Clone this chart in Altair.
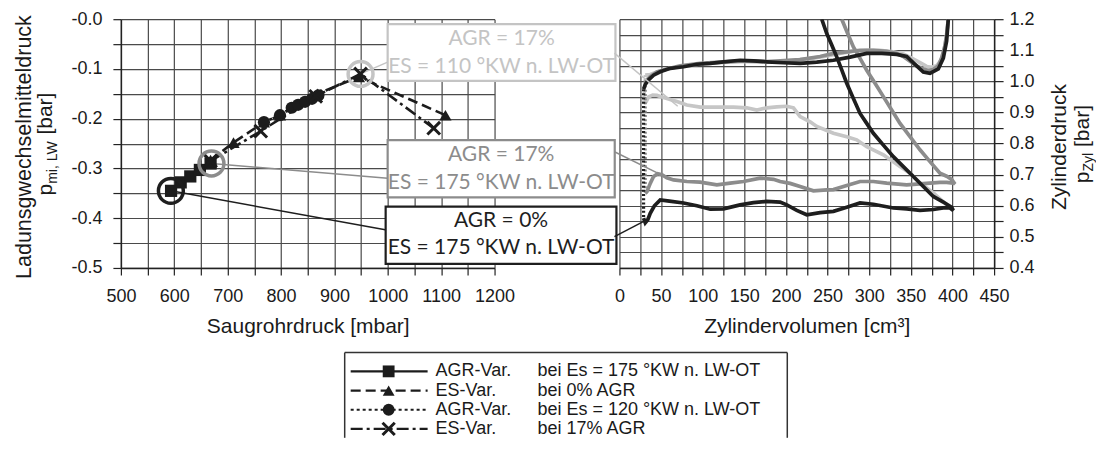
import altair as alt
import pandas as pd

FONT = "Liberation Sans, Arial, Helvetica, sans-serif"
BOXFONT = "Lato, Carlito, Calibri, sans-serif"
INK = "#1c1c1c"
GRID = "#4a4a4a"

# ---------------- left panel data (Saugrohrdruck vs p_mi,LW) ----------------
series_names = ["AGR-Var. Es=175", "ES-Var. 0% AGR", "AGR-Var. Es=120", "ES-Var. 17% AGR"]
s1_x = [594, 612, 630, 648, 668]
s1_y = [-0.345, -0.328, -0.316, -0.303, -0.290]
s2_x = [668, 711, 768, 798, 868, 946, 1108]
s2_y = [-0.283, -0.248, -0.207, -0.193, -0.150, -0.116, -0.193]
s3_x = [768, 798, 820, 832, 845, 858, 870]
s3_y = [-0.207, -0.193, -0.178, -0.172, -0.166, -0.160, -0.153]
s4_x = [668, 762, 865, 949, 1086]
s4_y = [-0.285, -0.225, -0.155, -0.110, -0.219]

legend_col1 = ["AGR-Var.", "ES-Var.", "AGR-Var.", "ES-Var."]
legend_col2 = ["bei Es = 175 °KW n. LW-OT", "bei 0% AGR", "bei Es = 120 °KW n. LW-OT", "bei 17% AGR"]

# highlighted operating points (left) and their loops (right)
hl_x = [593.6, 669.7, 949.0]
hl_y = [-0.345, -0.290, -0.110]
hl_color = ["#1e1e1e", "#8c8c8c", "#c4c4c4"]
annot_l1 = ["AGR = 0%", "AGR = 17%", "AGR = 17%"]
annot_l2 = ["ES = 175 °KW n. LW-OT", "ES = 175 °KW n. LW-OT", "ES = 110 °KW n. LW-OT"]
anchor_V = [28.6, 46.0, 70.0]
anchor_p = [0.549, 0.705, 0.920]

# ---------------- right panel data (p-V gas exchange loops) ----------------
curve_names = ["AGR 17% ES 110", "AGR 17% ES 175", "AGR 0% ES 175"]
curve_colors = ["#c6c6c6", "#8c8c8c", "#1e1e1e"]

lg_exh_V = [395, 393, 390, 386, 381, 375, 369, 361, 351, 341, 329, 313, 297, 281, 265, 249, 233, 217, 193, 169, 145, 121, 97, 73, 57, 45, 37, 31]
lg_exh_p = [1.2, 1.15, 1.1, 1.068, 1.05, 1.045, 1.048, 1.06, 1.075, 1.088, 1.095, 1.1, 1.1, 1.097, 1.09, 1.082, 1.075, 1.07, 1.063, 1.062, 1.064, 1.06, 1.056, 1.048, 1.04, 1.03, 1.022, 1.02]
lg_int_V = [29, 32, 35, 40, 45, 51, 57, 69, 81, 97, 117, 137, 153, 165, 177, 189, 201, 209, 217, 229, 237, 257, 273, 285, 297, 317, 337, 349, 361, 377, 393, 399]
lg_int_p = [0.93, 0.935, 0.95, 0.956, 0.955, 0.95, 0.945, 0.935, 0.924, 0.917, 0.917, 0.917, 0.915, 0.908, 0.915, 0.918, 0.92, 0.915, 0.887, 0.87, 0.855, 0.833, 0.822, 0.812, 0.79, 0.764, 0.726, 0.705, 0.673, 0.641, 0.603, 0.59]

gr_exh_V = [395, 393, 391, 387, 383, 377, 371, 365, 357, 349, 341, 333, 321, 305, 289, 273, 257, 241, 217, 193, 177, 161, 145, 121, 97, 73, 57, 45, 37, 31]
gr_exh_p = [1.2, 1.15, 1.115, 1.075, 1.05, 1.038, 1.035, 1.04, 1.05, 1.065, 1.08, 1.09, 1.097, 1.1, 1.1, 1.095, 1.09, 1.08, 1.07, 1.066, 1.064, 1.066, 1.065, 1.062, 1.058, 1.05, 1.04, 1.03, 1.015, 1.0]
gr_int_V = [31, 33, 37, 41, 46, 51, 57, 65, 81, 97, 117, 133, 149, 169, 185, 193, 205, 217, 233, 249, 257, 273, 289, 305, 321, 345, 369, 385, 393, 401, 403, 399, 393, 385, 373, 361, 349, 337, 327, 317, 307, 297, 289, 281, 274, 267]
gr_int_p = [0.64, 0.645, 0.672, 0.694, 0.703, 0.7, 0.69, 0.683, 0.678, 0.676, 0.667, 0.673, 0.678, 0.689, 0.685, 0.678, 0.672, 0.662, 0.648, 0.651, 0.652, 0.665, 0.678, 0.678, 0.673, 0.667, 0.672, 0.675, 0.675, 0.673, 0.67, 0.685, 0.695, 0.705, 0.742, 0.78, 0.822, 0.865, 0.908, 0.951, 0.994, 1.036, 1.074, 1.111, 1.155, 1.2]

bk_exh_V = [395, 393, 389, 383, 373, 365, 355, 345, 333, 315, 297, 277, 257, 237, 217, 197, 177, 161, 145, 125, 109, 93, 77, 61, 49, 41, 35, 31, 29]
bk_exh_p = [1.2, 1.13, 1.075, 1.04, 1.026, 1.03, 1.055, 1.08, 1.087, 1.09, 1.09, 1.078, 1.068, 1.062, 1.058, 1.06, 1.063, 1.066, 1.068, 1.063, 1.058, 1.055, 1.047, 1.042, 1.031, 1.02, 1.005, 0.99, 0.975]
bk_int_V = [29, 31, 34, 37, 42, 49, 60, 77, 93, 109, 125, 145, 161, 177, 193, 201, 213, 225, 241, 257, 273, 289, 305, 329, 345, 361, 377, 389, 397, 401, 399, 389, 377, 365, 353, 341, 329, 317, 305, 297, 289, 281, 273, 267, 261, 255, 249, 243]
bk_int_p = [0.56, 0.545, 0.555, 0.576, 0.6, 0.619, 0.615, 0.609, 0.6, 0.589, 0.59, 0.603, 0.61, 0.614, 0.612, 0.603, 0.585, 0.571, 0.578, 0.582, 0.595, 0.609, 0.605, 0.593, 0.59, 0.585, 0.588, 0.593, 0.593, 0.585, 0.595, 0.612, 0.63, 0.662, 0.694, 0.726, 0.758, 0.795, 0.833, 0.865, 0.897, 0.945, 0.994, 1.037, 1.079, 1.117, 1.154, 1.2]

# ---------------- tables ----------------
sx = [s1_x, s2_x, s3_x, s4_x]
sy = [s1_y, s2_y, s3_y, s4_y]
rows = []
for name, xs, ys in zip(series_names, sx, sy):
    for i, (a, b) in enumerate(zip(xs, ys)):
        rows.append({"x": a, "y": b, "series": name, "i": i})
left_df = pd.DataFrame(rows)
filled_df = left_df[left_df["series"] != series_names[3]]
xmark_df = left_df[left_df["series"] == series_names[3]]
hl_df = pd.DataFrame({"x": hl_x, "y": hl_y, "c": hl_color})
one = pd.DataFrame({"k": [0]})

curves = [(lg_exh_V, lg_exh_p, lg_int_V, lg_int_p),
          (gr_exh_V, gr_exh_p, gr_int_V, gr_int_p),
          (bk_exh_V, bk_exh_p, bk_int_V, bk_int_p)]

DASHES = [[1, 0], [10, 5], [3, 3], [12, 4, 3, 4]]
X_PATH = "M-1,-1L1,1M-1,1L1,-1"

# ---------------- scales & axes ----------------
xL = alt.Scale(domain=[500, 1200], nice=False, zero=False)
yL = alt.Scale(domain=[-0.5, 0.0], nice=False, zero=False)
xR = alt.Scale(domain=[0, 450], nice=False, zero=False)
yR = alt.Scale(domain=[0.4, 1.2], nice=False, zero=False)

common = dict(grid=True, gridColor=GRID, gridWidth=1.2, gridOpacity=1,
              domainColor="#222", domainWidth=1.5, tickColor="#222", tickWidth=1.2,
              labelFont=FONT, labelFontSize=18, labelColor="#1a1a1a",
              labelFlush=False, labelOverlap=False,
              titleFont=FONT, titleFontSize=21, titleFontWeight="normal", titleColor="#1a1a1a")

xL_axis = alt.Axis(values=[500 + 50 * k for k in range(15)], format="d",
                   labelExpr="datum.value % 100 == 0 ? datum.label : ''",
                   tickSize=7, labelPadding=13, title="Saugrohrdruck [mbar]", titlePadding=10, **common)
yL_axis = alt.Axis(values=[round(-0.5 + 0.05 * k, 2) for k in range(11)],
                   labelExpr="abs(datum.value*10 - round(datum.value*10)) < 0.001 ? '-' + format(abs(datum.value), '.1f') : ''",
                   tickSize=8, labelPadding=11, title=None, **common)
xR_axis = alt.Axis(values=[25 * k for k in range(19)], format="d",
                   labelExpr="datum.value % 50 == 0 ? datum.label : ''",
                   tickSize=7, labelPadding=13, title="Zylindervolumen [cm³]", titlePadding=10, **common)
yR_axis = alt.Axis(values=[round(0.4 + 0.05 * k, 2) for k in range(17)], orient="right",
                   labelExpr="abs(datum.value*10 - round(datum.value*10)) < 0.001 ? format(datum.value, '.1f') : ''",
                   tickSize=9, labelPadding=6, title=None, **common)


def XL(f="x"):
    return alt.X(f"{f}:Q", scale=xL, axis=xL_axis)


def YL(f="y"):
    return alt.Y(f"{f}:Q", scale=yL, axis=yL_axis)


def XR(f="V"):
    return alt.X(f"{f}:Q", scale=xR, axis=xR_axis)


def YR(f="p"):
    return alt.Y(f"{f}:Q", scale=yR, axis=yR_axis)


# ---------------- left panel ----------------
L = []
L.append(alt.Chart(left_df).mark_line(color=INK, strokeWidth=2.6).encode(
    x=XL(), y=YL(),
    strokeDash=alt.StrokeDash("series:N", scale=alt.Scale(domain=series_names, range=DASHES), legend=None),
    order="i:Q"))

# annotation boxes (white, covering grid) with leader lines to highlighted points
box_geo = [  # x1, x2, y1, y2 (px rel. to plot), leader end (px), text line y's
    (265, 496, 187.7, 245, 266, 211, 202, 229.3),
    (267, 494.3, 121, 178.3, 267, 159.3, 136, 163.7),
    (267, 495, 5, 61.7, 267, 43, 20.3, 47.7),
]
for k in range(3):
    x1, x2, y1, y2, lx, ly, t1, t2 = box_geo[k]
    L.append(alt.Chart(hl_df.iloc[[k]]).mark_rule(color=hl_color[k], strokeWidth=1.5).encode(
        x=XL(), y=YL(), x2=alt.value(lx), y2=alt.value(ly)))
for k in range(3):
    x1, x2, y1, y2, lx, ly, t1, t2 = box_geo[k]
    L.append(alt.Chart(one).mark_rect(fill="white", stroke=hl_color[k], strokeWidth=2.2).encode(
        x=alt.value(x1), x2=alt.value(x2), y=alt.value(y1), y2=alt.value(y2)))
    L.append(alt.Chart(one).mark_text(text=annot_l1[k], font=BOXFONT, fontSize=21, color=hl_color[k],
                                      align="center", baseline="middle").encode(
        x=alt.value((x1 + x2) / 2), y=alt.value(t1)))
    L.append(alt.Chart(one).mark_text(text=annot_l2[k], font=BOXFONT, fontSize=21, color=hl_color[k],
                                      align="center", baseline="middle").encode(
        x=alt.value((x1 + x2) / 2), y=alt.value(t2)))

L.append(alt.Chart(filled_df).mark_point(filled=True, size=150, color=INK, opacity=1).encode(
    x=XL(), y=YL(),
    shape=alt.Shape("series:N", scale=alt.Scale(domain=series_names[:3], range=["square", "triangle-up", "circle"]), legend=None)))
L.append(alt.Chart(xmark_df).mark_point(shape=X_PATH, filled=False, size=160, strokeWidth=3, color=INK, opacity=1).encode(
    x=XL(), y=YL()))
L.append(alt.Chart(hl_df).mark_point(shape="circle", filled=False, size=620, strokeWidth=3.5, opacity=1).encode(
    x=XL(), y=YL(), color=alt.Color("c:N", scale=None)))


# rotated title pieces (with subscript)
def rtext(txt, x, y, size, align="center"):
    return alt.Chart(one).mark_text(text=txt, font=FONT, fontSize=size, color="#1a1a1a", angle=270,
                                    align=align, baseline="alphabetic").encode(x=alt.value(x), y=alt.value(y))


L.append(rtext("Ladunsgwechselmitteldruck", -89.5, 128, 21.5))
L.append(rtext("p", -68.5, 176.5, 21, "left"))
L.append(rtext("mi, LW", -64, 164.8, 14, "left"))
L.append(rtext("[bar]", -68.5, 115.5, 21, "left"))

# legend box (drawn as a framed block under the panels)
LB = dict(x1=224, x2=667, top=333.7, bot=419)
for (ax, ax2, ay, ay2) in [(LB["x1"], LB["x2"], LB["top"], LB["top"]),
                           (LB["x1"], LB["x1"], LB["top"], LB["bot"]),
                           (LB["x2"], LB["x2"], LB["top"], LB["bot"])]:
    L.append(alt.Chart(one).mark_rule(color="#333", strokeWidth=1.5).encode(
        x=alt.value(ax), x2=alt.value(ax2), y=alt.value(ay), y2=alt.value(ay2)))
row_y = [352.5, 371.7, 390.9, 410.1]
shapes = ["square", "triangle-up", "circle", X_PATH]
for k in range(4):
    L.append(alt.Chart(one).mark_rule(color=INK, strokeWidth=2.2, strokeDash=DASHES[k]).encode(
        x=alt.value(230), x2=alt.value(307), y=alt.value(row_y[k]), y2=alt.value(row_y[k])))
    if k < 3:
        L.append(alt.Chart(one).mark_point(shape=shapes[k], filled=True, size=140, color=INK, opacity=1).encode(
            x=alt.value(268), y=alt.value(row_y[k])))
    else:
        L.append(alt.Chart(one).mark_point(shape=X_PATH, filled=False, size=150, strokeWidth=3, color=INK, opacity=1).encode(
            x=alt.value(268), y=alt.value(row_y[k])))
    L.append(alt.Chart(one).mark_text(text=legend_col1[k], font=FONT, fontSize=18, color="#1a1a1a",
                                      align="left", baseline="middle").encode(x=alt.value(315), y=alt.value(row_y[k])))
    L.append(alt.Chart(one).mark_text(text=legend_col2[k], font=FONT, fontSize=18, color="#1a1a1a",
                                      align="left", baseline="middle").encode(x=alt.value(417), y=alt.value(row_y[k])))

left = alt.layer(*L).properties(width=374, height=249)

# ---------------- right panel ----------------
R = []
for name, col, (eV, ep, iV, ip) in zip(curve_names, curve_colors, curves):
    seg_rows = []
    for i, (a, b) in enumerate(zip(eV, ep)):
        seg_rows.append({"V": a, "p": b, "seg": "exh", "i": i})
    for i, (a, b) in enumerate(zip(iV, ip)):
        seg_rows.append({"V": a, "p": b, "seg": "int", "i": i})
    df = pd.DataFrame(seg_rows)
    vert = pd.DataFrame({"V": [eV[-1], iV[0]], "p": [ep[-1], ip[0]], "i": [0, 1]})
    R.append(alt.Chart(df).mark_line(color=col, strokeWidth=3.7, clip=True).encode(
        x=XR(), y=YR(), detail="seg:N", order="i:Q"))
    R.append(alt.Chart(vert).mark_line(color=col, strokeWidth=3.2, strokeDash=[2, 2.2], clip=True).encode(
        x=XR(), y=YR(), order="i:Q"))

anchor_df = pd.DataFrame({"V": anchor_V, "p": anchor_p})
lead_y = [217.7, 132.7, 34]
for k in range(3):
    R.append(alt.Chart(anchor_df.iloc[[k]]).mark_rule(color=hl_color[k], strokeWidth=1.5).encode(
        x=XR(), y=YR(), x2=alt.value(-5), y2=alt.value(lead_y[k])))

R.append(rtext("Zylinderdruck", 446.5, 128, 21))
R.append(rtext("p", 469.5, 164.1, 21, "left"))
R.append(rtext("Zyl", 474, 152.4, 14, "left"))
R.append(rtext("[bar]", 469.5, 127.9, 21, "left"))

right = alt.layer(*R).properties(width=375, height=249)

chart = alt.hconcat(left, right, spacing=125, bounds="flush").configure_view(stroke=None).properties(
    padding={"left": 6, "top": 2, "right": 0, "bottom": 0})

chart.save("out.html", embed_options={"renderer": "svg", "actions": False})
